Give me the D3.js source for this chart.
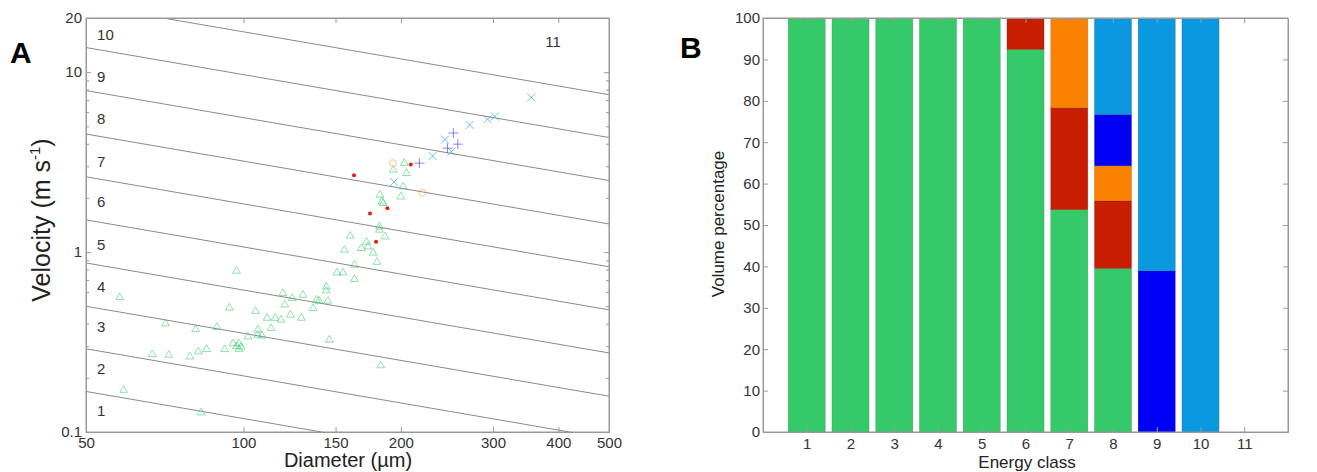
<!DOCTYPE html>
<html>
<head>
<meta charset="utf-8">
<script src="https://cdn.jsdelivr.net/npm/d3@7"></script>
<style>
  body { margin: 0; background: #fff; }
  svg { font-family: "Liberation Sans", Arial, Helvetica, sans-serif; }
  .axis text { fill: #333; font-size: 15px; }
  .axis line, .axis path { stroke: #999; }
  .titulo { fill: #222; }
</style>
</head>
<body>
<div id="chart"></div>
<script>
// ---------------- data: panel A (scatter) ----------------
// [diameter um, velocity m/s]
const greenPts = [[58,0.56],[59,0.171],[83,0.128],[71,0.40],[67,0.27],[72,0.268],[79,0.262],[82,0.28],
  [85,0.288],[81,0.372],[89,0.382],[94,0.49],[92,0.288],[97,0.785],[95.5,0.31],[97,0.30],[98,0.31],
  [99,0.297],[98,0.289],[102,0.339],[105.5,0.47],[106.5,0.37],[106.5,0.346],[108.5,0.342],[111,0.43],
  [113,0.377],[115,0.43],[118,0.42],[120,0.51],[119,0.59],[124,0.554],[123,0.447],[129,0.43],[130,0.577],
  [136,0.487],[138,0.542],[139.5,0.535],[145,0.535],[144,0.642],[144,0.61],[146,0.325],[151,0.768],
  [155,0.768],[163,0.706],[163,0.848],[156,1.027],[160,1.23],[168,1.05],[172,1.138],[173,1.072],
  [177,0.99],[180,0.88],[183,0.234],[182,1.384],[182,1.327],[186.5,1.218],[182.4,2.077],[184,1.907],
  [185,1.868],[200,2.03],[202,2.31],[205,2.74],[193.5,2.86],[203,3.12]]
const redPts = [[162.7,2.67],[174.6,1.64],[188.5,1.75],[179.3,1.14],[208.9,3.07]]
const orangePts = [[193,3.12],[220,2.14]]
const bluePts = [[217,3.12],[252,4.59],[257,3.98],[245.6,3.78]]
const lightBluePts = [[355,7.24],[293,5.47],[302.7,5.67],[270.8,5.09],[243,4.22],[249.8,3.62],[230,3.42],[194,2.45]]
// velocity of each energy-class boundary at d = 50 um (lines follow v ~ d^-0.5)
const boundaryV50 = [0.168, 0.29, 0.50, 0.87, 1.51, 2.62, 4.53, 7.9, 13.7, 23.7]
const classLabels = ["1","2","3","4","5","6","7","8","9","10"]
const classLabelV = [0.131, 0.224, 0.383, 0.64, 1.095, 1.90, 3.17, 5.50, 9.40, 16.1]
const xTicksA = [50, 100, 150, 200, 300, 400, 500]
const yTicksA = [0.1, 1, 10, 20]
const yMinorA = [0.2,0.3,0.4,0.5,0.6,0.7,0.8,0.9,2,3,4,5,6,7,8,9]

// ---------------- data: panel B (stacked bars) ----------------
const energyClass = [1,2,3,4,5,6,7,8,9,10,11]
const greenVol = [100,100,100,100,100,92.4,53.7,39.5,0,0,0]
const redVol = [0,0,0,0,0,7.6,24.6,16.3,0,0,0]
const orangeVol = [0,0,0,0,0,0,21.7,8.5,0,0,0]
const blueVol = [0,0,0,0,0,0,0,12.4,38.9,0,0]
const lightBlueVol = [0,0,0,0,0,0,0,23.3,61.1,100,0]
const yTicksB = d3.range(0, 101, 10)

const colores = {
  green: "#35c96a",
  red: "#c81e00",
  orange: "#fb8200",
  blue: "#0000f5",
  lightBlue: "#0a98e0",
}

const anchoTotal = 1317
const altoTotal = 472
const svg = d3.select("#chart").append("svg")
  .attr("width", anchoTotal)
  .attr("height", altoTotal)

/////////////////////////////// PANEL A ///////////////////////////////
const A = { left: 86, top: 18, right: 609, bottom: 432 }
const x = d3.scaleLog().domain([50, 500]).range([A.left, A.right])
const y = d3.scaleLog().domain([0.1, 20]).range([A.bottom, A.top])

svg.append("clipPath").attr("id", "clipA")
  .append("rect")
  .attr("x", A.left).attr("y", A.top)
  .attr("width", A.right - A.left).attr("height", A.bottom - A.top)

const gA = svg.append("g")

// energy class boundary lines
const linea = d3.line().x((d) => x(d[0])).y((d) => y(d[1]))
gA.append("g").attr("clip-path", "url(#clipA)")
  .selectAll("path")
  .data(boundaryV50)
  .enter()
  .append("path")
  .attr("d", (v) => linea([50, 500].map((d) => [d, v * Math.pow(d / 50, -0.5)])))
  .attr("fill", "none")
  .attr("stroke", "#8a8a8a")
  .attr("stroke-width", 1)

gA.selectAll(".claseLbl")
  .data(classLabels)
  .enter()
  .append("text")
  .attr("x", x(52.5))
  .attr("y", (d, i) => y(classLabelV[i]))
  .attr("dy", "0.35em")
  .attr("font-size", 15)
  .attr("fill", "#333")
  .text((d) => d)
gA.append("text")
  .attr("x", x(391)).attr("y", y(14.7)).attr("dy", "0.35em")
  .attr("text-anchor", "middle").attr("font-size", 15).attr("fill", "#333")
  .text("11")

// scatter markers
const pts = gA.append("g").attr("clip-path", "url(#clipA)")
pts.selectAll(".tri")
  .data(greenPts)
  .enter()
  .append("path")
  .attr("d", d3.symbol(d3.symbolTriangle, 26))
  .attr("transform", (d) => `translate(${x(d[0])}, ${y(d[1])})`)
  .attr("fill", "none")
  .attr("stroke", colores.green)
  .attr("stroke-opacity", 0.55)
pts.selectAll(".circ")
  .data(orangePts)
  .enter()
  .append("circle")
  .attr("cx", (d) => x(d[0])).attr("cy", (d) => y(d[1]))
  .attr("r", 3.5)
  .attr("fill", "none")
  .attr("stroke", colores.orange)
  .attr("stroke-opacity", 0.45)
pts.selectAll(".plus")
  .data(bluePts)
  .enter()
  .append("path")
  .attr("d", "M-5,0H5M0,-5V5")
  .attr("transform", (d) => `translate(${x(d[0])}, ${y(d[1])})`)
  .attr("stroke", "#5050ff")
  .attr("stroke-opacity", 0.7)
pts.selectAll(".cruz")
  .data(lightBluePts)
  .enter()
  .append("path")
  .attr("d", "M-4,-4L4,4M-4,4L4,-4")
  .attr("transform", (d) => `translate(${x(d[0])}, ${y(d[1])})`)
  .attr("stroke", colores.lightBlue)
  .attr("stroke-opacity", 0.6)
pts.selectAll(".dot")
  .data(redPts)
  .enter()
  .append("circle")
  .attr("cx", (d) => x(d[0])).attr("cy", (d) => y(d[1]))
  .attr("r", 2)
  .attr("fill", "#e0201a")

// axes A
const fmtA = (d) => String(d)
gA.append("g").classed("axis", true)
  .attr("transform", `translate(0, ${A.bottom})`)
  .call(d3.axisBottom(x).tickValues(xTicksA).tickFormat(fmtA).tickSizeInner(-5).tickSizeOuter(0).tickPadding(5))
gA.append("g").classed("axis", true)
  .attr("transform", `translate(0, ${A.top})`)
  .call(d3.axisTop(x).tickValues(xTicksA).tickFormat("").tickSizeInner(-5).tickSizeOuter(0))
gA.append("g").classed("axis", true)
  .attr("transform", `translate(${A.left}, 0)`)
  .call(d3.axisLeft(y).tickValues(yTicksA).tickFormat(fmtA).tickSizeInner(-5).tickSizeOuter(0).tickPadding(4))
gA.append("g").classed("axis", true)
  .attr("transform", `translate(${A.left}, 0)`)
  .call(d3.axisLeft(y).tickValues(yMinorA).tickFormat("").tickSizeInner(-3).tickSizeOuter(0))
gA.append("g").classed("axis", true)
  .attr("transform", `translate(${A.right}, 0)`)
  .call(d3.axisRight(y).tickValues(yTicksA).tickFormat("").tickSizeInner(-5).tickSizeOuter(0))
gA.append("g").classed("axis", true)
  .attr("transform", `translate(${A.right}, 0)`)
  .call(d3.axisRight(y).tickValues(yMinorA).tickFormat("").tickSizeInner(-3).tickSizeOuter(0))

gA.append("rect")
  .attr("x", A.left).attr("y", A.top)
  .attr("width", A.right - A.left).attr("height", A.bottom - A.top)
  .attr("fill", "none").attr("stroke", "#999")

const yTitA = gA.append("text")
  .classed("titulo", true)
  .attr("transform", `translate(50, 220) rotate(-90)`)
  .attr("text-anchor", "middle")
  .attr("font-size", 25)
yTitA.append("tspan").text("Velocity (m s")
yTitA.append("tspan").attr("font-size", 15).attr("dy", -10).text("-1")
yTitA.append("tspan").attr("dy", 10).text(")")

gA.append("text")
  .classed("titulo", true)
  .attr("x", 348).attr("y", 467)
  .attr("text-anchor", "middle")
  .attr("font-size", 20)
  .text("Diameter (\u00b5m)")

svg.append("text")
  .attr("x", 10).attr("y", 63)
  .attr("font-size", 30).attr("font-weight", "bold")
  .text("A")

/////////////////////////////// PANEL B ///////////////////////////////
const B = { left: 763, top: 18, right: 1288, bottom: 432 }
const xB = d3.scaleLinear().domain([0, 12]).range([B.left, B.right])
const yB = d3.scaleLinear().domain([0, 100]).range([B.bottom, B.top])

const tabla = energyClass.map((c, i) => ({
  clase: c,
  green: greenVol[i],
  red: redVol[i],
  orange: orangeVol[i],
  blue: blueVol[i],
  lightBlue: lightBlueVol[i],
}))
const series = d3.stack().keys(["green", "red", "orange", "blue", "lightBlue"])(tabla)
const anchoBarra = xB(0.85) - xB(0)

const gB = svg.append("g")
gB.selectAll("g.serie")
  .data(series)
  .enter()
  .append("g")
  .attr("fill", (s) => colores[s.key])
  .selectAll("rect")
  .data((s) => s.filter((d) => d[1] - d[0] > 0))
  .enter()
  .append("rect")
  .attr("x", (d) => xB(d.data.clase) - anchoBarra / 2)
  .attr("y", (d) => yB(d[1]))
  .attr("width", anchoBarra)
  .attr("height", (d) => yB(d[0]) - yB(d[1]))
  .attr("stroke", "rgba(0,0,0,0.2)")
  .attr("stroke-width", 0.6)

gB.append("g").classed("axis", true)
  .attr("transform", `translate(0, ${B.bottom})`)
  .call(d3.axisBottom(xB).tickValues(energyClass).tickFormat(d3.format("d")).tickSizeInner(-5).tickSizeOuter(0).tickPadding(6))
gB.append("g").classed("axis", true)
  .attr("transform", `translate(0, ${B.top})`)
  .call(d3.axisTop(xB).tickValues(energyClass).tickFormat("").tickSizeInner(-5).tickSizeOuter(0))
gB.append("g").classed("axis", true)
  .attr("transform", `translate(${B.left}, 0)`)
  .call(d3.axisLeft(yB).tickValues(yTicksB).tickFormat(d3.format("d")).tickSizeInner(-5).tickSizeOuter(0).tickPadding(3))
gB.append("g").classed("axis", true)
  .attr("transform", `translate(${B.right}, 0)`)
  .call(d3.axisRight(yB).tickValues(yTicksB).tickFormat("").tickSizeInner(-5).tickSizeOuter(0))

gB.append("rect")
  .attr("x", B.left).attr("y", B.top)
  .attr("width", B.right - B.left).attr("height", B.bottom - B.top)
  .attr("fill", "none").attr("stroke", "#999")

gB.append("text")
  .classed("titulo", true)
  .attr("transform", `translate(724, 224) rotate(-90)`)
  .attr("text-anchor", "middle")
  .attr("font-size", 17)
  .text("Volume percentage")
gB.append("text")
  .classed("titulo", true)
  .attr("x", 1027).attr("y", 468)
  .attr("text-anchor", "middle")
  .attr("font-size", 17)
  .text("Energy class")

svg.append("text")
  .attr("x", 680).attr("y", 58)
  .attr("font-size", 30).attr("font-weight", "bold")
  .text("B")
</script>
</body>
</html>
